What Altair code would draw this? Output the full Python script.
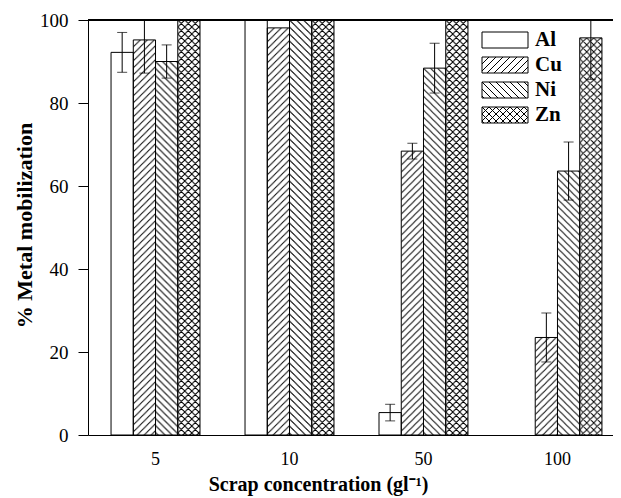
import base64
import altair as alt
import pandas as pd

# ---------------- data ----------------
concentrations = ["5", "10", "50", "100"]
metals = ["Al", "Cu", "Ni", "Zn"]
al_values = [92.2, 100.0, 5.4, 0.0]
cu_values = [95.2, 98.1, 68.4, 23.5]
ni_values = [90.0, 100.0, 88.4, 63.6]
zn_values = [100.0, 100.0, 100.0, 95.7]
al_errors = [4.8, 0.0, 2.0, 0.0]
cu_errors = [8.0, 0.0, 1.9, 5.9]
ni_errors = [4.0, 0.0, 6.0, 7.0]
zn_errors = [0.0, 0.0, 0.0, 10.0]
y_ticks = [0, 20, 40, 60, 80, 100]

values_by_metal = {"Al": al_values, "Cu": cu_values, "Ni": ni_values, "Zn": zn_values}
errors_by_metal = {"Al": al_errors, "Cu": cu_errors, "Ni": ni_errors, "Zn": zn_errors}

# ---------------- styles: hatch patterns as small SVG images ----------------
def pattern_url(path):
    svg = (
        "<svg xmlns='http://www.w3.org/2000/svg' width='100%' height='100%'>"
        "<defs><pattern id='h' width='7' height='7' patternUnits='userSpaceOnUse'>"
        f"<path d='{path}' stroke='black' stroke-width='1' fill='none'/>"
        "</pattern></defs><rect width='100%' height='100%' fill='url(#h)'/></svg>"
    )
    return "data:image/svg+xml;base64," + base64.b64encode(svg.encode()).decode()

FWD = "M-1,1 L1,-1 M0,7 L7,0 M6,8 L8,6"
BACK = "M-1,6 L1,8 M0,0 L7,7 M6,-1 L8,1"
patterns = {"Cu": pattern_url(FWD), "Ni": pattern_url(BACK), "Zn": pattern_url(FWD + " " + BACK)}

FONT = "Liberation Serif"

# ---------------- tables ----------------
rows = []
for m in metals:
    for i, c in enumerate(concentrations):
        v = values_by_metal[m][i]
        e = errors_by_metal[m][i]
        rows.append({"conc": c, "metal": m, "value": v, "err": e,
                     "lo": v - e, "hi": v + e, "url": patterns.get(m, "")})
df = pd.DataFrame(rows)

legend_df = pd.DataFrame({"metal": metals, "row": list(range(len(metals))),
                          "url": [patterns.get(m, "") for m in metals]})

# ---------------- main plot ----------------
x_enc = alt.X(
    "conc:N", sort=concentrations,
    scale=alt.Scale(range=[0, 537], paddingInner=0.336, paddingOuter=0.172),
    axis=alt.Axis(ticks=False, labelAngle=0, labelFont=FONT, labelFontSize=18,
                  labelColor="black", labelPadding=15, domainColor="black",
                  titleFont=FONT, titleFontSize=20, titleFontWeight="bold",
                  titleColor="black", titleX=230, titleY=55, titleAlign="center",
                  titleBaseline="alphabetic"),
    title="Scrap concentration (gl⁻¹)",
)
xo_enc = alt.XOffset("metal:N", sort=metals, scale=alt.Scale(paddingInner=0, paddingOuter=0))
y_scale = alt.Scale(domain=[0, 100], nice=False)
y_enc = alt.Y(
    "value:Q", scale=y_scale,
    axis=alt.Axis(values=y_ticks, tickSize=10, tickColor="black", domainColor="black",
                  grid=False, labelFont=FONT, labelFontSize=19, labelColor="black",
                  labelPadding=10, titleFont=FONT, titleFontSize=22,
                  titleFontWeight="bold", titleColor="black", titleAngle=270,
                  titleX=-64, titleY=205, titleAlign="center", titleBaseline="middle"),
    title="% Metal mobilization",
)

base = alt.Chart(df).transform_filter("datum.value > 0")

fills = base.mark_bar(fill="white", strokeWidth=0).encode(x=x_enc, xOffset=xo_enc, y=y_enc)

hatch = base.transform_filter("datum.metal != 'Al'").mark_image(aspect=False).encode(
    x=x_enc, xOffset=xo_enc, y=alt.Y("value:Q", scale=y_scale), y2=alt.datum(0),
    url=alt.Url("url:N"),
)

outline = base.mark_bar(fillOpacity=0, stroke="black", strokeWidth=1).encode(
    x=x_enc, xOffset=xo_enc, y=alt.Y("value:Q", scale=y_scale)
)

errs = base.transform_filter("datum.err > 0")
err_line = errs.mark_rule(color="black", strokeWidth=1, clip=True).encode(
    x=x_enc, xOffset=xo_enc, y=alt.Y("lo:Q", scale=y_scale), y2="hi:Q"
)
cap_lo = errs.mark_tick(color="black", thickness=1, size=10, orient="horizontal", clip=True).encode(
    x=x_enc, xOffset=xo_enc, y=alt.Y("lo:Q", scale=y_scale)
)
cap_hi = errs.mark_tick(color="black", thickness=1, size=10, orient="horizontal", clip=True).encode(
    x=x_enc, xOffset=xo_enc, y=alt.Y("hi:Q", scale=y_scale)
)

top_line = alt.Chart(df).mark_rule(color="black", strokeWidth=1).encode(
    y=alt.datum(100, scale=y_scale)
)

main = alt.layer(fills, hatch, outline, err_line, cap_lo, cap_hi, top_line)

# ---------------- legend (drawn inside the plot, upper right) ----------------
leg = alt.Chart(legend_df).transform_calculate(
    ly="12 + 25 * datum.row", ly2="28 + 25 * datum.row", ty="20 + 25 * datum.row"
)
leg_y = alt.Y("ly:Q", scale=None, axis=None)
leg_box = leg.mark_rect(fill="white", strokeWidth=0).encode(
    x=alt.value(394), x2=alt.value(440), y=leg_y, y2="ly2:Q"
)
leg_hatch = leg.transform_filter("datum.metal != 'Al'").mark_image(aspect=False).encode(
    x=alt.value(394), x2=alt.value(440), y=leg_y, y2="ly2:Q", url=alt.Url("url:N")
)
leg_outline = leg.mark_rect(fillOpacity=0, stroke="black", strokeWidth=1).encode(
    x=alt.value(394), x2=alt.value(440), y=leg_y, y2="ly2:Q"
)
leg_text = leg.mark_text(align="left", baseline="middle", font=FONT, fontSize=21,
                         fontWeight="bold", color="black").encode(
    x=alt.value(447), y=alt.Y("ty:Q", scale=None, axis=None), text="metal:N"
)
legend = alt.layer(leg_box, leg_hatch, leg_outline, leg_text)

chart = alt.layer(main, legend).resolve_scale(y="independent").properties(
    width=525, height=415,
    autosize=alt.AutoSizeParams(type="none"),
    padding={"left": 80, "top": 12, "right": 0, "bottom": 62},
    background="white",
).configure_view(stroke=None)

chart.save("out.html", embed_options={"renderer": "svg", "actions": False})
